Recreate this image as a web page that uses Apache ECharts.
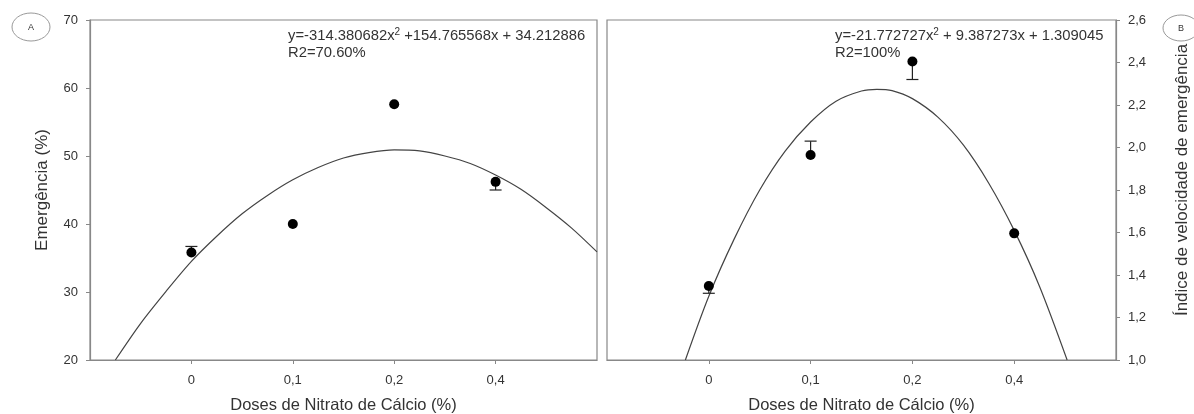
<!DOCTYPE html>
<html>
<head>
<meta charset="utf-8">
<script src="https://cdn.jsdelivr.net/npm/echarts@6/dist/echarts.min.js"></script>
<style>
html,body{margin:0;padding:0;background:#fff;}
#c{width:1194px;height:414px;}
</style>
</head>
<body>
<div id="c"></div>
<script>
// Dose categories (equally spaced positions 0..3 on the x axis)
const doseLabels = ['0', '0,1', '0,2', '0,4'];
const dosePos = [0, 1, 2, 3];

// Panel A: Emergência (%)
const emergMean = [35.8, 40.0, 57.6, 46.2];
const emergErrEnd = [36.7, null, null, 45.0];
const curveAx = [-0.75, -0.5, -0.25, 0, 0.25, 0.5, 0.75, 1, 1.25, 1.5, 1.75, 2, 2.25, 2.5, 2.75, 3, 3.25, 3.5, 3.75, 4];
const curveAy = [20, 25.4, 30.1, 34.5, 38.2, 41.5, 44.2, 46.5, 48.3, 49.7, 50.5, 50.9, 50.75, 50.0, 48.9, 47.2, 45.1, 42.4, 39.4, 35.9];

// Panel B: Índice de velocidade de emergência
const ivMean = [1.348, 1.965, 2.405, 1.596];
const ivErrEnd = [1.314, 2.03, 2.32, null];
const curveBx = [-0.23, 0, 0.25, 0.5, 0.75, 1, 1.25, 1.5, 1.65, 1.8, 2, 2.25, 2.5, 2.75, 3, 3.25, 3.52];
const curveBy = [1.0, 1.30, 1.57, 1.80, 1.983, 2.12, 2.218, 2.266, 2.274, 2.268, 2.23, 2.143, 2.012, 1.832, 1.61, 1.345, 1.0];

const eqA = ['y=-314.380682x', '2', ' +154.765568x + 34.212886', 'R2=70.60%'];
const eqB = ['y=-21.772727x', '2', ' + 9.387273x + 1.309045', 'R2=100%'];

const FONT = '"Liberation Sans", Arial, sans-serif';
const TXT = '#333';
const FRAME = '#888';

function pairs(xs, ys) { return xs.map((x, i) => [x, ys[i]]); }
function errData(means, ends) {
  const out = [];
  means.forEach((m, i) => { if (ends[i] != null) out.push([dosePos[i], m, ends[i]]); });
  return out;
}
function errRender(params, api) {
  const x = api.value(0);
  const p0 = api.coord([x, api.value(1)]);
  const p1 = api.coord([x, api.value(2)]);
  const style = { stroke: '#222', lineWidth: 1.2 };
  return {
    type: 'group',
    children: [
      { type: 'line', shape: { x1: p0[0], y1: p0[1], x2: p1[0], y2: p1[1] }, style },
      { type: 'line', shape: { x1: p1[0] - 6, y1: p1[1], x2: p1[0] + 6, y2: p1[1] }, style }
    ]
  };
}
function xAxisCfg(gi) {
  return {
    type: 'value', gridIndex: gi, min: -1, max: 4, interval: 1,
    name: 'Doses de Nitrato de Cálcio (%)', nameLocation: 'middle', nameGap: 37,
    nameTextStyle: { fontFamily: FONT, fontSize: 16.5, color: TXT },
    axisLine: { onZero: false, lineStyle: { color: FRAME, width: 1.2 } },
    axisTick: { show: true, length: 4, lineStyle: { color: FRAME }, customValues: dosePos },
    axisLabel: { fontFamily: FONT, fontSize: 13, color: TXT, margin: 14,
      customValues: dosePos, formatter: v => doseLabels[dosePos.indexOf(v)] || '' },
    splitLine: { show: false }
  };
}

const eqRich = {
  a: { fontFamily: FONT, fontSize: 14.8, fill: '#333', lineHeight: 17 },
  s: { fontFamily: FONT, fontSize: 10, fill: '#333', verticalAlign: 'top', lineHeight: 17 }
};

const chart = echarts.init(document.getElementById('c'), null, { renderer: 'canvas' });
chart.setOption({
  animation: false,
  backgroundColor: '#fff',
  grid: [
    { left: 90, top: 20, width: 507, height: 340, outerBoundsMode: 'none', containLabel: false,
      show: true, borderColor: FRAME, borderWidth: 1.2, backgroundColor: 'transparent' },
    { left: 607, top: 20, width: 509, height: 340, outerBoundsMode: 'none', containLabel: false,
      show: true, borderColor: FRAME, borderWidth: 1.2, backgroundColor: 'transparent' }
  ],
  xAxis: [xAxisCfg(0), xAxisCfg(1)],
  yAxis: [
    {
      type: 'value', gridIndex: 0, min: 20, max: 70, interval: 10,
      name: 'Emergência (%)', nameLocation: 'middle', nameGap: 39, nameRotate: 90,
      nameTextStyle: { fontFamily: FONT, fontSize: 17, color: TXT },
      axisLine: { show: true, onZero: false, lineStyle: { color: FRAME, width: 1.2 } },
      axisTick: { show: true, length: 4, lineStyle: { color: FRAME } },
      axisLabel: { fontFamily: FONT, fontSize: 13, color: TXT, margin: 12 },
      splitLine: { show: false }
    },
    {
      type: 'value', gridIndex: 1, position: 'right', min: 1.0, max: 2.6, interval: 0.2,
      name: 'Índice de velocidade de emergência', nameLocation: 'middle', nameGap: 58, nameRotate: 90,
      nameTextStyle: { fontFamily: FONT, fontSize: 17, color: TXT, padding: [0, 0, 0, 20] },
      axisLine: { show: true, onZero: false, lineStyle: { color: FRAME, width: 1.2 } },
      axisTick: { show: true, length: 4, lineStyle: { color: FRAME } },
      axisLabel: { fontFamily: FONT, fontSize: 13, color: TXT, margin: 12,
        formatter: v => v.toFixed(1).replace('.', ',') },
      splitLine: { show: false }
    }
  ],
  series: [
    { type: 'line', xAxisIndex: 0, yAxisIndex: 0, data: pairs(curveAx, curveAy), smooth: 0.3,
      showSymbol: false, lineStyle: { color: '#444', width: 1.2 }, z: 2 },
    { type: 'scatter', xAxisIndex: 0, yAxisIndex: 0, data: pairs(dosePos, emergMean),
      symbolSize: 10, itemStyle: { color: '#000', opacity: 1 }, z: 4 },
    { type: 'custom', xAxisIndex: 0, yAxisIndex: 0, data: errData(emergMean, emergErrEnd),
      renderItem: errRender, z: 3 },
    { type: 'line', xAxisIndex: 1, yAxisIndex: 1, data: pairs(curveBx, curveBy), smooth: 0.3,
      showSymbol: false, lineStyle: { color: '#444', width: 1.2 }, z: 2 },
    { type: 'scatter', xAxisIndex: 1, yAxisIndex: 1, data: pairs(dosePos, ivMean),
      symbolSize: 10, itemStyle: { color: '#000', opacity: 1 }, z: 4 },
    { type: 'custom', xAxisIndex: 1, yAxisIndex: 1, data: errData(ivMean, ivErrEnd),
      renderItem: errRender, z: 3 }
  ],
  graphic: [
    { type: 'ellipse', shape: { cx: 31, cy: 27, rx: 19, ry: 14 }, style: { fill: '#fff', stroke: '#999', lineWidth: 1 } },
    { type: 'text', x: 31, y: 28, style: { text: 'A', fontFamily: FONT, fontSize: 9, fill: '#333', align: 'center', verticalAlign: 'middle' } },
    { type: 'ellipse', shape: { cx: 1181, cy: 28, rx: 18, ry: 13 }, style: { fill: '#fff', stroke: '#999', lineWidth: 1 } },
    { type: 'text', x: 1181, y: 29, style: { text: 'B', fontFamily: FONT, fontSize: 9, fill: '#333', align: 'center', verticalAlign: 'middle' } },
    { type: 'text', x: 288, y: 27, style: {
        text: '{a|' + eqA[0] + '}{s|' + eqA[1] + '}{a|' + eqA[2] + '}\n{a|' + eqA[3] + '}', rich: eqRich } },
    { type: 'text', x: 835, y: 27, style: {
        text: '{a|' + eqB[0] + '}{s|' + eqB[1] + '}{a|' + eqB[2] + '}\n{a|' + eqB[3] + '}', rich: eqRich } }
  ]
});
</script>
</body>
</html>
